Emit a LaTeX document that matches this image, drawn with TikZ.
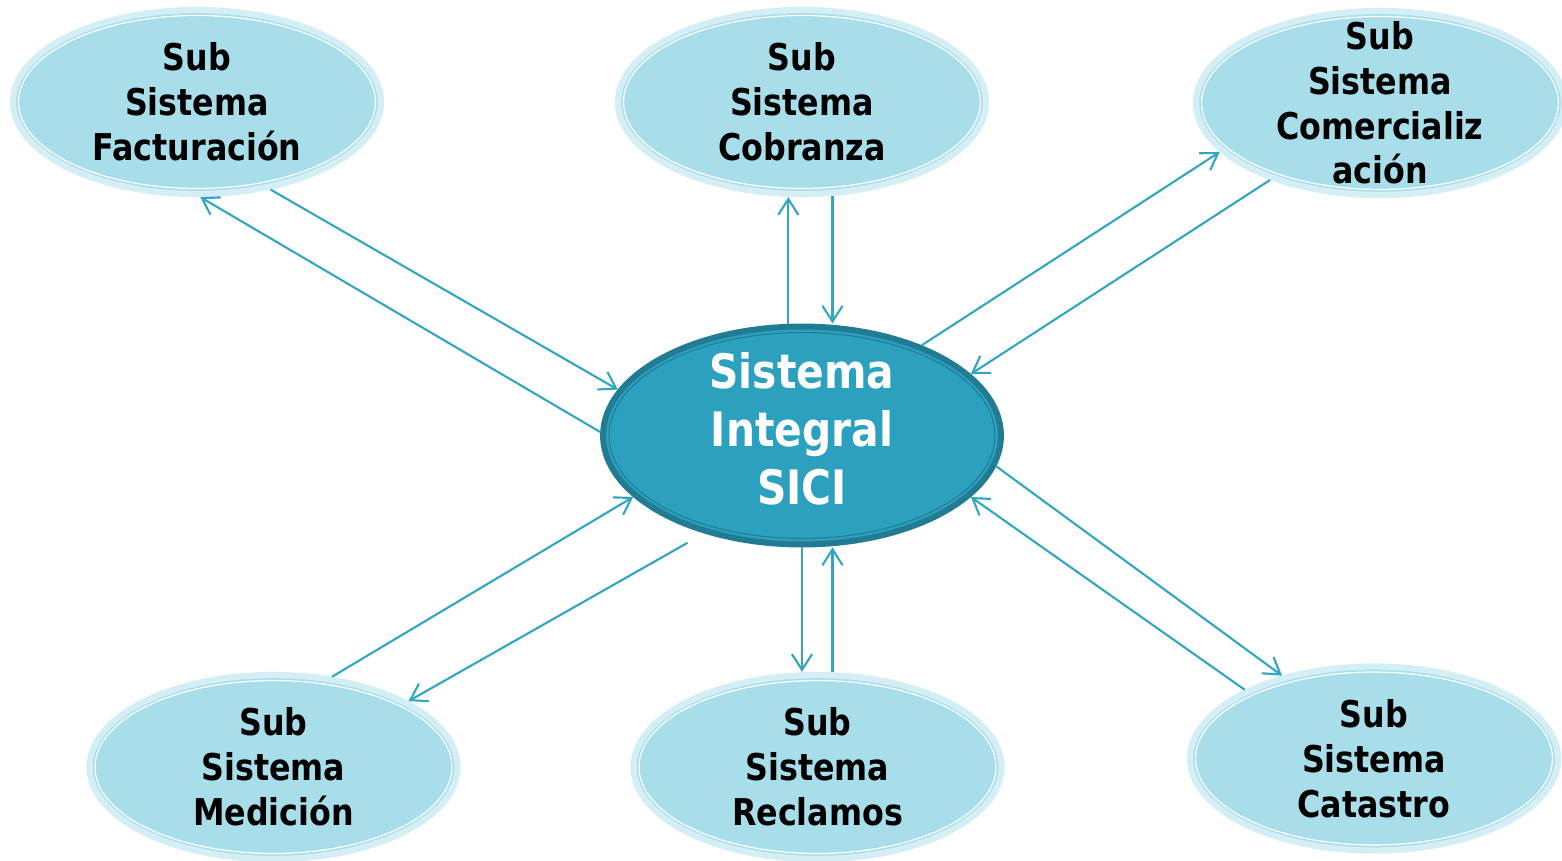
\documentclass[tikz,border=0pt]{standalone}
\usepackage{fontspec}
\setmainfont{DejaVu Sans}[FakeStretch=0.86]
\usepackage{xcolor}
\usepackage{tikz}
\usetikzlibrary{arrows.meta,shapes.geometric}
\definecolor{subfill}{HTML}{A8DDEA}
\definecolor{subglow}{HTML}{D4EEF5}
\definecolor{hubfill}{HTML}{2CA1BF}
\definecolor{hubdark}{HTML}{217C93}
\definecolor{linkcol}{HTML}{31A5C3}
\tikzstyle{subsys} = [
    ellipse,
    fill=subfill,
    draw=subglow,
    line width=3.6pt,
    minimum width=7.36cm,
    minimum height=3.68cm,
    inner xsep=0pt,
    inner ysep=-14pt,
    align=center,
    font=\bfseries\fontsize{21}{25.5}\selectfont,
    path picture={\draw[white, line width=0.7pt] (path picture bounding box.center) ellipse (3.57cm and 1.73cm);}
    ]
\tikzstyle{hub} = [
    ellipse,
    fill=hubfill,
    draw=hubdark,
    line width=3.4pt,
    minimum width=7.96cm,
    minimum height=4.36cm,
    inner xsep=0pt,
    inner ysep=-10pt,
    align=center,
    text=white,
    font=\bfseries\fontsize{27}{32.9}\selectfont,
    path picture={\draw[hubdark, line width=0.6pt] (path picture bounding box.center) ellipse (3.86cm and 2.06cm);}
    ]
\tikzstyle{link} = [draw=linkcol, line width=1.2pt]

\begin{document}
\begin{tikzpicture}[x=0.02cm, y=-0.02cm, >={Straight Barb[length=9pt,width=11.5pt]}]
        \useasboundingbox (0,0) rectangle (1562,861);

        \node (core) [hub] at (802,435.5) {Sistema\\Integral\\SICI\rule[-8pt]{0pt}{0pt}};

        \node (fact) [subsys] at (197,102) {Sub\\Sistema\\Facturación};
        \node (cobr) [subsys] at (802,102) {Sub\\Sistema\\Cobranza};
        \node (comer) [subsys] at (1380,103) {Sub\\Sistema\\Comercializ\\ación};
        \node (medi) [subsys] at (273.5,767) {Sub\\Sistema\\Medición};
        \node (recl) [subsys] at (817.5,767) {Sub\\Sistema\\Reclamos};
        \node (cata) [subsys] at (1374,758.5) {Sub\\Sistema\\Catastro};

        % Lines
        \draw[link,->] (fact.-50) -- (core.166);
        \draw[link,->] (core.179) -- (fact.-88);
        \draw[link,->] (core.97) -- (core.97 |- cobr.south);
        \draw[link,->] (cobr.-72) -- (cobr.-72 |- core.north);
        \draw[link,->] (core.37) -- (comer.-163);
        \draw[link,->] (comer.-145) -- (core.20);
        \draw[link,->] (medi.57) -- (core.-160);
        \draw[link,->,shorten <=0.38cm] (core.-135) -- (medi.26);
        \draw[link,->] (core.south) -- (core.south |- recl.north);
        \draw[link,->] (recl.81) -- (recl.81 |- core.south);
        \draw[link,->] (core.-9) -- (cata.138);
        \draw[link,->] (cata.152) -- (core.-20);

    \end{tikzpicture}
\end{document}
